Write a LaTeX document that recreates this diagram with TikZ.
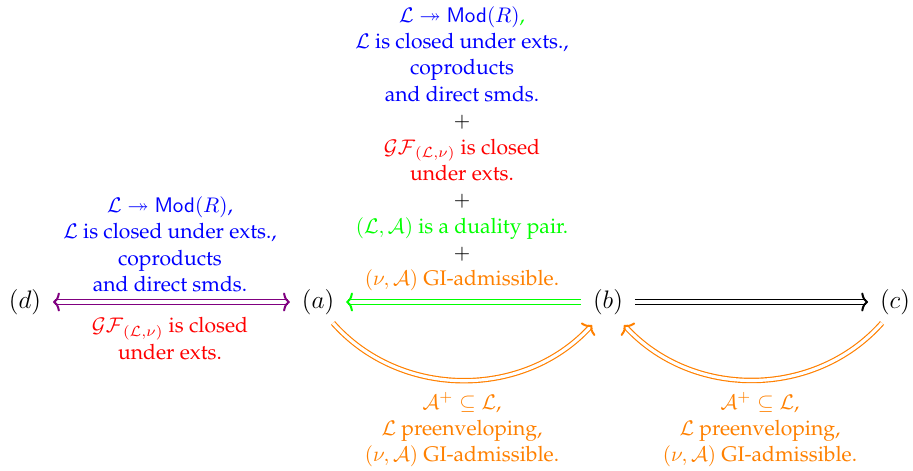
\documentclass[tikz,border=0pt]{standalone}
\usepackage[T1]{fontenc}
\renewcommand{\rmdefault}{ppl}
\usepackage{amsmath,amssymb}
\usetikzlibrary{arrows.meta}
\tikzset{
  vert/.style={inner xsep=5.5pt, inner ysep=3pt, font=\fontsize{11.5}{13}\selectfont},
  lbl/.style={align=center, inner sep=0pt, font=\fontsize{10}{12.5}\selectfont},
  dbl/.style={double, double distance=1.5pt, line width=0.55pt, >={Computer Modern Rightarrow[length=3.2pt, width=9pt, line width=0.95pt]}},
}
\begin{document}
\begin{tikzpicture}[x=0.474pt,y=-0.474pt]
\useasboundingbox (0,0) rectangle (913,470);
\node[vert] (d) at (25,302) {$(d)$};
\node[vert] (a) at (318,302) {$(a)$};
\node[vert] (b) at (608,302) {$(b)$};
\node[vert] (c) at (895,302) {$(c)$};

\draw[dbl, violet, <->] (d) -- (a);
\draw[dbl, green, ->] (b) -- (a);
\draw[dbl, black, ->] (b) -- (c);

\coordinate (a1) at ([shift={(15,21)}]a.center);
\coordinate (b1) at ([shift={(-16,23)}]b.center);
\coordinate (b2) at ([shift={(16,23)}]b.center);
\coordinate (c1) at ([shift={(-13,21)}]c.center);
\draw[dbl, orange, ->] (a1) to[bend right=48] (b1);
\draw[dbl, orange, ->] (c1) to[bend left=48] (b2);

\node[lbl, anchor=north] (top) at (462,6) {%
\textcolor{blue}{$\mathcal{L}\twoheadrightarrow\mathsf{Mod}(R)$}\textcolor{green}{,}\\
\textcolor{blue}{$\mathcal{L}$ is closed under exts.,}\\
\textcolor{blue}{coproducts}\\
\textcolor{blue}{and direct smds.}\\
$+$\\
\textcolor{red}{$\mathcal{GF}_{(\mathcal{L},\nu)}$ is closed}\\
\textcolor{red}{under exts.}\\
$+$\\
\textcolor{green}{$(\mathcal{L},\mathcal{A})$ is a duality pair.}\\
$+$\\
\textcolor{orange}{$(\nu,\mathcal{A})$ GI-admissible.}};

\node[lbl, anchor=north] (dal) at (170,196) {%
\textcolor{blue}{$\mathcal{L}\twoheadrightarrow\mathsf{Mod}(R)$,}\\
\textcolor{blue}{$\mathcal{L}$ is closed under exts.,}\\
\textcolor{blue}{coproducts}\\
\textcolor{blue}{and direct smds.}};

\node[lbl, anchor=north] (dab) at (170,317) {%
\textcolor{red}{$\mathcal{GF}_{(\mathcal{L},\nu)}$ is closed}\\
\textcolor{red}{under exts.}};

\node[lbl, anchor=north, text=orange] (abl) at (462,392) {%
$\mathcal{A}^{+}\subseteq\mathcal{L}$,\\
$\mathcal{L}$ preenveloping,\\
$(\nu,\mathcal{A})$ GI-admissible.};

\node[lbl, anchor=north, text=orange] (cbl) at (760,392) {%
$\mathcal{A}^{+}\subseteq\mathcal{L}$,\\
$\mathcal{L}$ preenveloping,\\
$(\nu,\mathcal{A})$ GI-admissible.};
\end{tikzpicture}
\end{document}
